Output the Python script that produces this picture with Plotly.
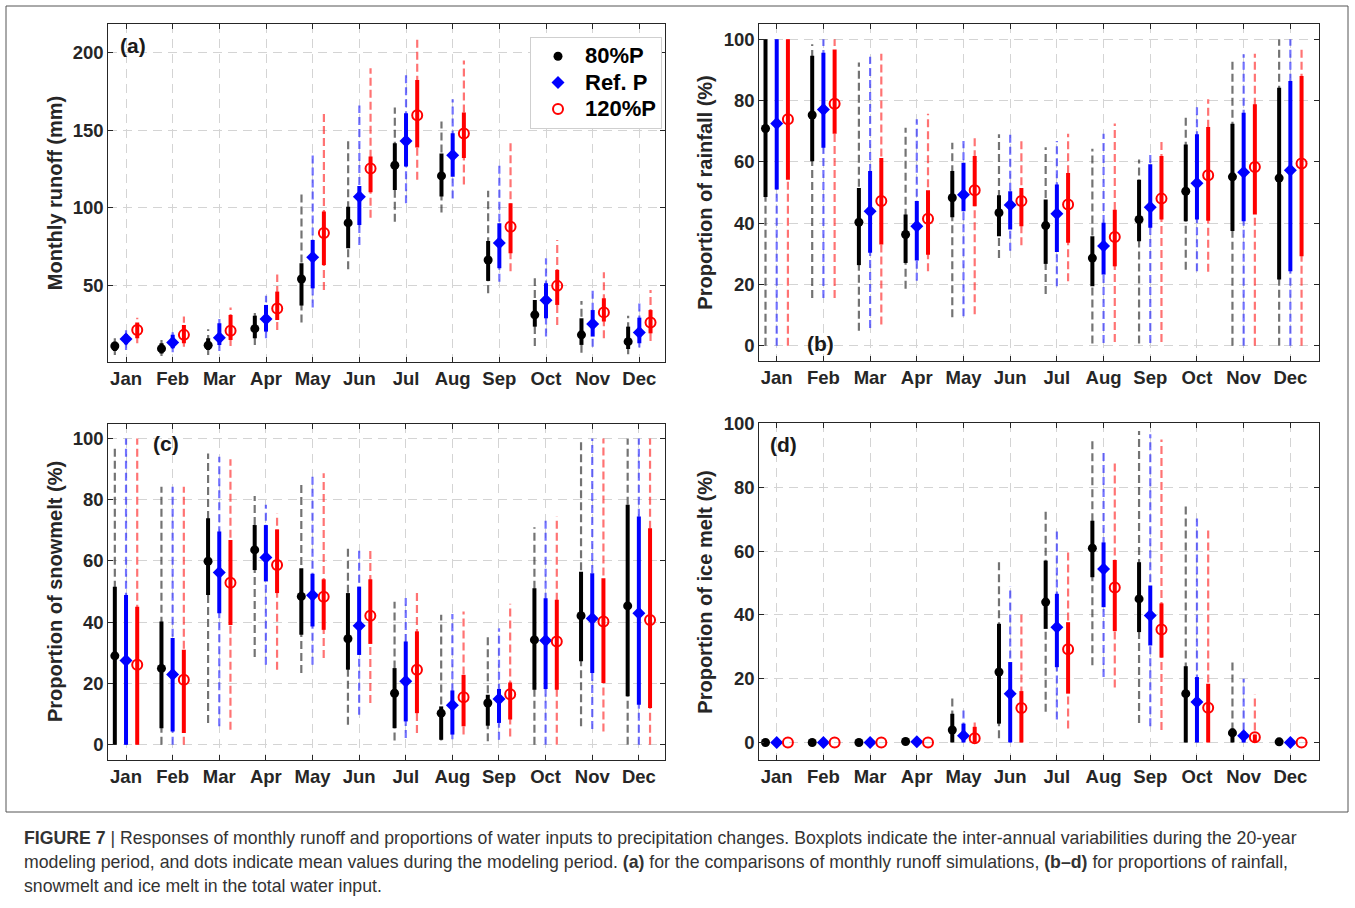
import plotly.graph_objects as go

months = ["Jan", "Feb", "Mar", "Apr", "May", "Jun", "Jul", "Aug", "Sep", "Oct", "Nov", "Dec"]
series_names = ["80%P", "Ref. P", "120%P"]

# ---------------- Panel (a): monthly runoff (mm) ----------------
a_mean_80 = [10.8, 9.1, 11.3, 22.0, 54.0, 90.2, 127.4, 120.5, 66.3, 30.9, 18.0, 13.6]
a_q1_80 = [7.6, 6.0, 8.3, 15.8, 36.9, 73.8, 111.5, 107.2, 52.8, 23.3, 11.5, 8.9]
a_q3_80 = [13.6, 12.6, 15.8, 30.4, 64.2, 100.7, 141.6, 135.0, 78.6, 40.5, 28.7, 23.3]
a_lo_80 = [5.0, 4.4, 5.0, 11.5, 25.9, 60.3, 91.0, 97.0, 44.8, 10.8, 6.5, 5.5]
a_hi_80 = [15.8, 14.7, 21.6, 34.0, 110.0, 143.0, 164.6, 155.6, 111.0, 54.5, 39.9, 30.4]

a_mean_ref = [15.4, 13.0, 16.2, 28.3, 68.0, 107.0, 143.0, 133.8, 77.3, 40.3, 25.0, 19.6]
a_q1_ref = [11.9, 9.3, 11.5, 20.1, 48.0, 88.9, 126.6, 119.9, 61.0, 28.7, 16.9, 12.6]
a_q3_ref = [18.4, 18.0, 25.5, 37.3, 79.2, 114.0, 161.0, 148.0, 90.0, 51.3, 34.0, 29.1]
a_lo_ref = [8.3, 6.8, 7.6, 15.8, 35.6, 76.0, 102.9, 106.0, 52.3, 16.9, 10.4, 9.8]
a_hi_ref = [21.0, 22.0, 28.7, 43.3, 134.4, 166.0, 185.7, 170.0, 127.6, 67.4, 48.0, 39.0]

a_mean_120 = [21.2, 18.0, 20.7, 35.0, 83.7, 125.3, 159.7, 147.8, 87.8, 49.6, 32.5, 26.0]
a_q1_120 = [15.8, 12.6, 14.7, 27.6, 63.0, 110.0, 138.8, 132.0, 70.6, 37.3, 26.6, 19.0]
a_q3_120 = [25.9, 24.4, 30.8, 45.9, 97.5, 133.0, 182.4, 161.4, 102.9, 59.9, 41.6, 34.0]
a_lo_120 = [12.6, 10.4, 10.8, 21.2, 47.0, 93.6, 118.0, 115.0, 59.0, 24.4, 15.8, 14.1]
a_hi_120 = [29.0, 29.8, 35.6, 57.0, 161.4, 190.0, 208.3, 195.0, 142.6, 79.2, 58.4, 47.0]

# ---------------- Panel (b): proportion of rainfall (%) ----------------
b_mean_80 = [70.9, 75.3, 40.3, 36.3, 48.3, 43.4, 39.2, 28.6, 41.2, 50.4, 55.1, 54.7]
b_q1_80 = [48.5, 60.2, 26.3, 27.0, 41.9, 35.7, 26.7, 19.4, 34.1, 40.6, 37.4, 21.6]
b_q3_80 = [100, 94.6, 51.5, 42.8, 57.0, 49.1, 47.7, 35.7, 54.2, 65.7, 72.4, 84.2]
b_lo_80 = [0, 15.6, 4.9, 18.6, 9.3, 28.6, 16.9, 0.7, 0.7, 24.8, 0, 0]
b_hi_80 = [100, 98.4, 92.4, 71.1, 66.2, 69.0, 64.8, 64.3, 60.8, 75.7, 94.0, 100]

b_mean_ref = [72.5, 77.1, 43.9, 39.0, 49.3, 45.9, 43.1, 32.5, 45.2, 53.0, 56.6, 57.3]
b_q1_ref = [51.0, 64.6, 30.3, 27.8, 43.9, 37.9, 30.6, 23.2, 38.5, 41.2, 40.6, 24.3]
b_q3_ref = [100, 95.6, 57.0, 47.2, 59.7, 50.4, 52.6, 40.1, 59.2, 69.0, 76.0, 86.4]
b_lo_ref = [0, 15.6, 5.8, 21.2, 9.6, 31.0, 19.4, 0.9, 0.9, 24.3, 0, 0]
b_hi_ref = [100, 100, 94.3, 73.9, 66.8, 69.0, 66.8, 69.2, 63.5, 78.8, 95.1, 100]

b_mean_120 = [73.9, 79.0, 47.2, 41.4, 50.7, 47.2, 46.1, 35.5, 48.0, 55.6, 58.3, 59.5]
b_q1_120 = [54.2, 69.2, 33.0, 29.7, 45.5, 39.0, 33.6, 25.9, 41.2, 40.8, 42.8, 29.2]
b_q3_120 = [100, 96.7, 61.3, 50.7, 61.9, 51.5, 56.4, 44.4, 61.9, 71.4, 78.8, 88.0]
b_lo_120 = [0, 15.6, 6.9, 24.3, 10.3, 32.8, 21.0, 1.2, 1.2, 24.1, 0, 0]
b_hi_120 = [100, 100, 95.3, 75.7, 67.9, 67.9, 69.2, 72.5, 67.0, 80.4, 95.3, 97.8]

# ---------------- Panel (c): proportion of snowmelt (%) ----------------
c_mean_80 = [29.0, 24.9, 59.9, 63.6, 48.4, 34.6, 16.8, 10.3, 13.6, 34.2, 42.1, 45.3]
c_q1_80 = [0, 5.4, 48.9, 57.0, 35.9, 24.5, 5.4, 1.6, 6.2, 17.9, 27.2, 15.8]
c_q3_80 = [51.6, 40.2, 73.9, 71.7, 57.6, 49.5, 25.0, 12.5, 16.3, 51.1, 56.5, 78.3]
c_lo_80 = [0, 0, 7.1, 28.6, 23.4, 6.5, 1.4, 1.4, 1.1, 0, 6.0, 0]
c_hi_80 = [97.8, 84.2, 95.1, 81.2, 85.9, 64.9, 46.7, 42.4, 35.3, 71.0, 100, 100]

c_mean_ref = [27.5, 22.9, 56.2, 61.1, 48.8, 38.8, 20.7, 12.9, 14.9, 34.0, 41.2, 42.9]
c_q1_ref = [0, 4.3, 42.9, 53.3, 38.6, 29.3, 7.6, 3.3, 7.1, 18.2, 23.4, 13.0]
c_q3_ref = [48.9, 34.8, 69.6, 71.7, 55.8, 51.6, 33.7, 17.7, 18.2, 47.8, 56.0, 74.5]
c_lo_ref = [0, 0, 6.0, 26.1, 26.1, 9.8, 2.2, 1.8, 1.6, 0, 5.1, 0]
c_hi_ref = [100, 84.2, 94.0, 78.3, 88.0, 64.5, 48.2, 42.7, 38.0, 73.4, 100, 100]

c_mean_120 = [26.1, 21.2, 52.9, 58.7, 48.3, 42.1, 24.5, 15.5, 16.5, 33.7, 40.2, 40.7]
c_q1_120 = [0, 3.8, 39.1, 49.5, 37.5, 32.9, 10.3, 6.0, 8.2, 17.9, 20.1, 12.0]
c_q3_120 = [45.0, 31.0, 66.8, 70.3, 54.0, 54.0, 37.0, 22.8, 20.3, 47.3, 54.3, 70.7]
c_lo_120 = [0, 0, 4.9, 24.5, 28.3, 13.6, 3.8, 3.3, 2.7, 0, 4.3, 0]
c_hi_120 = [100, 84.2, 93.2, 75.5, 88.6, 64.1, 49.5, 43.5, 46.0, 74.5, 100, 100]

# ---------------- Panel (d): proportion of ice melt (%) ----------------
d_mean_80 = [0, 0, 0, 0.3, 3.9, 22.1, 44.0, 60.9, 45.0, 15.3, 3.0, 0.2]
d_q1_80 = [0, 0, 0, 0, 0, 5.9, 35.6, 51.8, 34.6, 0, 0, 0]
d_q3_80 = [0, 0, 0, 0.5, 9.0, 37.2, 57.0, 69.5, 56.5, 23.9, 4.4, 0.3]
d_lo_80 = [0, 0, 0, 0, 0, 1.3, 9.6, 24.2, 6.1, 0, 0, 0]
d_hi_80 = [0, 0, 0, 0.6, 14.8, 57.0, 72.6, 94.7, 97.6, 74.2, 25.2, 0.3]

d_mean_ref = [0, 0, 0, 0.2, 2.1, 15.3, 36.1, 54.4, 39.8, 12.7, 2.1, 0]
d_q1_ref = [0, 0, 0, 0, 0, 0, 23.6, 42.4, 30.4, 0, 0, 0]
d_q3_ref = [0, 0, 0, 0.4, 5.9, 25.2, 46.6, 62.7, 49.2, 20.5, 3.5, 0]
d_lo_ref = [0, 0, 0, 0, 0, 0, 7.2, 20.5, 5.1, 0, 0, 0]
d_hi_ref = [0, 0, 0, 0.5, 10.1, 49.0, 66.4, 91.9, 96.6, 70.3, 20.0, 0]

d_mean_120 = [0, 0, 0, 0, 1.3, 10.8, 29.2, 48.6, 35.4, 10.9, 1.6, 0]
d_q1_120 = [0, 0, 0, 0, 0, 0, 15.3, 34.9, 26.6, 0, 0, 0]
d_q3_120 = [0, 0, 0, 0, 4.9, 16.1, 37.7, 57.2, 43.6, 18.4, 2.5, 0]
d_lo_120 = [0, 0, 0, 0, 0, 0, 4.4, 17.2, 3.9, 0, 0, 0]
d_hi_120 = [0, 0, 0, 0, 7.5, 40.8, 60.1, 87.7, 95.0, 66.9, 15.1, 0]

y_titles = ["Monthly runoff (mm)", "Proportion of rainfall (%)",
            "Proportion of snowmelt (%)", "Proportion of ice melt (%)"]
panel_tags = ["(a)", "(b)", "(c)", "(d)"]

panels = [
    [(a_mean_80, a_q1_80, a_q3_80, a_lo_80, a_hi_80),
     (a_mean_ref, a_q1_ref, a_q3_ref, a_lo_ref, a_hi_ref),
     (a_mean_120, a_q1_120, a_q3_120, a_lo_120, a_hi_120)],
    [(b_mean_80, b_q1_80, b_q3_80, b_lo_80, b_hi_80),
     (b_mean_ref, b_q1_ref, b_q3_ref, b_lo_ref, b_hi_ref),
     (b_mean_120, b_q1_120, b_q3_120, b_lo_120, b_hi_120)],
    [(c_mean_80, c_q1_80, c_q3_80, c_lo_80, c_hi_80),
     (c_mean_ref, c_q1_ref, c_q3_ref, c_lo_ref, c_hi_ref),
     (c_mean_120, c_q1_120, c_q3_120, c_lo_120, c_hi_120)],
    [(d_mean_80, d_q1_80, d_q3_80, d_lo_80, d_hi_80),
     (d_mean_ref, d_q1_ref, d_q3_ref, d_lo_ref, d_hi_ref),
     (d_mean_120, d_q1_120, d_q3_120, d_lo_120, d_hi_120)],
]

# ---------------- styling ----------------
W, H = 1355, 908
offsets = [-0.24, 0.0, 0.24]
solid_colors = ["#000000", "#0000ff", "#ff0000"]
dash_colors = ["rgba(0,0,0,0.55)", "rgba(0,0,255,0.55)", "rgba(255,0,0,0.55)"]
symbols = ["circle", "diamond", "circle-open"]
msizes = [9, 10, 10]

# pixel boxes of the four axes (left, top, right, bottom)
boxes = [(108.3, 24.3, 665.0, 362.0), (759.3, 24.3, 1319.3, 361.0),
         (108.3, 424.0, 664.5, 760.0), (759.3, 423.3, 1319.3, 760.0)]
x_ranges = [[0.62, 12.55], [0.627, 12.62], [0.62, 12.55], [0.627, 12.62]]
y_ranges = [[0.5, 218.3], [-5, 104.9], [-5, 104.7], [-5.5, 100.05]]
y_ticks = [[50, 100, 150, 200], [0, 20, 40, 60, 80, 100],
           [0, 20, 40, 60, 80, 100], [0, 20, 40, 60, 80, 100]]
title_x = [55, 705, 55, 705]
tag_pos = [(117.7, 45), (805, 343), (151, 443), (768, 444)]

AX = "#262626"
FONT = "Liberation Sans, Arial, sans-serif"

fig = go.Figure()

for p, panel in enumerate(panels):
    xa = "x" if p == 0 else f"x{p+1}"
    ya = "y" if p == 0 else f"y{p+1}"
    for s, (mean, q1, q3, lo, hi) in enumerate(panel):
        xs_w, ys_w, xs_b, ys_b, xs_m = [], [], [], [], []
        for i in range(len(months)):
            xp = i + 1 + offsets[s]
            xs_w += [xp, xp, None]
            ys_w += [lo[i], hi[i], None]
            xs_b += [xp, xp, None]
            ys_b += [q1[i], q3[i], None]
            xs_m.append(xp)
        fig.add_trace(go.Scatter(
            x=xs_w, y=ys_w, mode="lines", xaxis=xa, yaxis=ya, showlegend=False,
            hoverinfo="skip", line=dict(color=dash_colors[s], width=2.2, dash="8px,4px")))
        fig.add_trace(go.Scatter(
            x=xs_b, y=ys_b, mode="lines", xaxis=xa, yaxis=ya, showlegend=False,
            hoverinfo="skip", line=dict(color=solid_colors[s], width=4)))
        fig.add_trace(go.Scatter(
            x=xs_m, y=mean, mode="markers", xaxis=xa, yaxis=ya,
            name=f"<span style='font-size:22px'>{series_names[s]}</span>",
            showlegend=(p == 0),
            marker=dict(symbol=symbols[s], size=msizes[s], color=solid_colors[s],
                        line=dict(width=2 if s == 2 else 0, color=solid_colors[s]))))

layout = dict(
    width=W, height=H, margin=dict(l=0, r=0, t=0, b=0, autoexpand=False),
    paper_bgcolor="white", plot_bgcolor="white",
    font=dict(family=FONT, color=AX),
    showlegend=True,
    legend=dict(x=662 / W, y=1 - 37 / H, xanchor="right", yanchor="top",
                bgcolor="white", bordercolor="#cfcfcf", borderwidth=1,
                font=dict(size=18, weight="bold", color="#000000", family=FONT),
                itemwidth=44, tracegroupgap=0),
)

annotations = []
shapes = []
for p in range(4):
    l, t, r, b = boxes[p]
    xk = "xaxis" if p == 0 else f"xaxis{p+1}"
    yk = "yaxis" if p == 0 else f"yaxis{p+1}"
    xa = "x" if p == 0 else f"x{p+1}"
    ya = "y" if p == 0 else f"y{p+1}"
    layout[xk] = dict(
        domain=[l / W, r / W], range=x_ranges[p], anchor=ya, automargin=False,
        tickmode="array", tickvals=list(range(1, 13)), ticktext=months,
        showgrid=True, gridcolor="#d4d4d4", griddash="9px,6px", gridwidth=1,
        showline=True, linecolor=AX, linewidth=1, mirror="ticks",
        ticks="inside", ticklen=5, tickcolor=AX, zeroline=False,
        tickfont=dict(size=18.5, weight="bold", color=AX, family=FONT))
    layout[yk] = dict(
        domain=[1 - b / H, 1 - t / H], range=y_ranges[p], anchor=xa, automargin=False,
        tickmode="array", tickvals=y_ticks[p],
        showgrid=True, gridcolor="#d4d4d4", griddash="9px,6px", gridwidth=1,
        showline=True, linecolor=AX, linewidth=1, mirror="ticks",
        ticks="inside", ticklen=5, tickcolor=AX, zeroline=False,
        tickfont=dict(size=18.5, weight="bold", color=AX, family=FONT))
    annotations.append(dict(
        text=y_titles[p], textangle=-90, xref="paper", yref="paper",
        x=title_x[p] / W, y=1 - ((t + b) / 2) / H, xanchor="center", yanchor="middle",
        showarrow=False, font=dict(size=20, weight="bold", color=AX, family=FONT)))
    tx, ty = tag_pos[p]
    annotations.append(dict(
        text=panel_tags[p], xref="paper", yref="paper", x=tx / W, y=1 - ty / H,
        xanchor="left", yanchor="middle", showarrow=False,
        font=dict(size=21, weight="bold", color="#1a1a1a", family=FONT)))

caption_lines = [
    "<b>FIGURE 7</b> | Responses of monthly runoff and proportions of water inputs to precipitation changes. "
    "Boxplots indicate the inter-annual variabilities during the 20-year",
    "modeling period, and dots indicate mean values during the modeling period. <b>(a)</b> for the comparisons "
    "of monthly runoff simulations, <b>(b–d)</b> for proportions of rainfall,",
    "snowmelt and ice melt in the total water input.",
]
for k, line in enumerate(caption_lines):
    annotations.append(dict(
        text=line, xref="paper", yref="paper", x=22 / W, y=1 - (838 + 24 * k) / H,
        xanchor="left", yanchor="middle", showarrow=False, align="left",
        font=dict(size=17.7, color="#333333", family=FONT)))

shapes.append(dict(type="rect", xref="paper", yref="paper",
                   x0=6 / W, x1=1348 / W, y0=1 - 812 / H, y1=1 - 6 / H,
                   line=dict(color="#555555", width=1), layer="below"))

layout["annotations"] = annotations
layout["shapes"] = shapes
fig.update_layout(**layout)

fig.write_html("out.html", config={"displayModeBar": False},
               post_script="document.body.style.margin='0';document.body.style.overflow='hidden';")
